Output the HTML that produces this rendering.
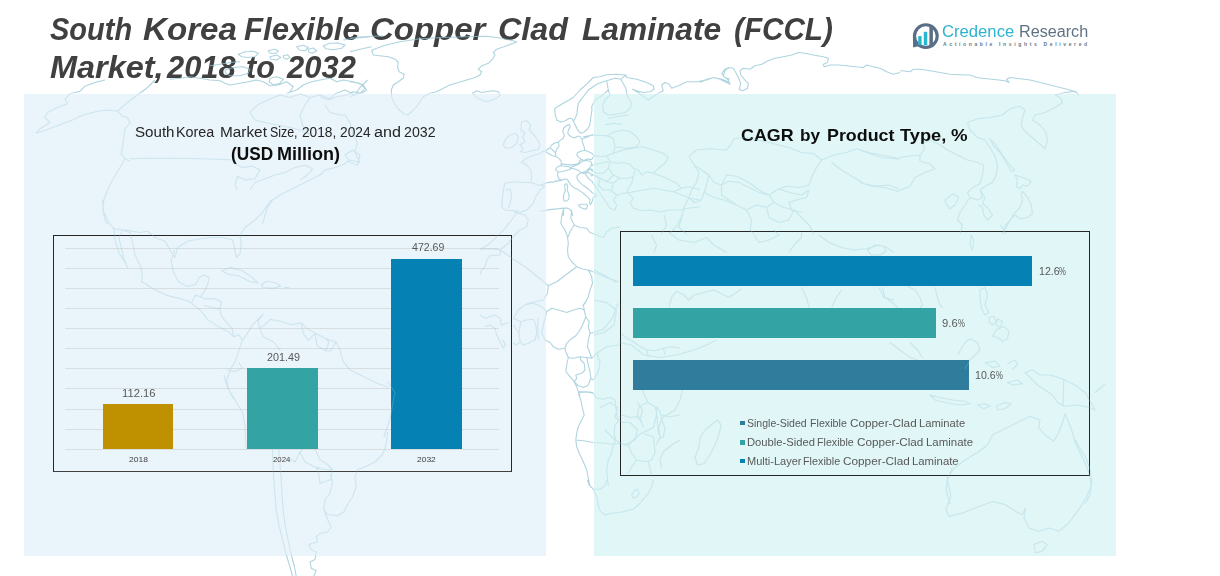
<!DOCTYPE html>
<html>
<head>
<meta charset="utf-8">
<title>South Korea Flexible Copper Clad Laminate (FCCL) Market</title>
<style>
  html, body { margin: 0; padding: 0; }
  body {
    width: 1220px; height: 576px; overflow: hidden; position: relative;
    background: #ffffff;
    font-family: "Liberation Sans", sans-serif;
  }
  .abs { position: absolute; }
  .w { position: absolute; white-space: nowrap; line-height: 1; transform-origin: 0 50%; }
  .panel-l { left: 24px; top: 93.5px; width: 522.2px; height: 462px; background: #eaf4fb; }
  .panel-r { left: 593.5px; top: 93.5px; width: 522.3px; height: 462px; background: #e0f6f7; }
  .ttl { font-weight: bold; font-style: italic; color: #404040; }
  .s1 { color: #262626; }
  .s2 { font-weight: bold; color: #0d0d0d; }
  .lg { color: #595959; }
  .dl { color: #595959; }
  .ax { color: #404040; }
  .pc { transform: scaleX(0.7); transform-origin: 0 50%; }
  .box { border: 1px solid #262626; box-sizing: border-box; }
  .box-l { left: 53.25px; top: 235px; width: 458.5px; height: 236.75px; border-bottom: 1.5px solid #404040; }
  .box-r { left: 619.5px; top: 230.75px; width: 470.5px; height: 244.75px; }
  .grid { left: 65px; width: 434.25px; height: 1px; background: #d8dde0; }
  .mk { width: 4.8px; height: 4.8px; }
</style>
</head>
<body>
  <div class="abs panel-l"></div>
  <div class="abs panel-r"></div>

  <!-- header -->
  <div class="ttl">
    <span class="w" style="left:49.85px;top:13.21px;font-size:32px;transform:scaleX(0.9059);">South</span>
    <span class="w" style="left:143.28px;top:13.21px;font-size:32px;transform:scaleX(1.0353);">Korea</span>
    <span class="w" style="left:244.01px;top:13.21px;font-size:32px;transform:scaleX(0.9715);">Flexible</span>
    <span class="w" style="left:370.45px;top:13.21px;font-size:32px;transform:scaleX(1.0304);">Copper</span>
    <span class="w" style="left:498.29px;top:13.21px;font-size:32px;transform:scaleX(1.0081);">Clad</span>
    <span class="w" style="left:581.91px;top:13.21px;font-size:32px;transform:scaleX(0.9899);">Laminate</span>
    <span class="w" style="left:734.44px;top:13.21px;font-size:32px;transform:scaleX(0.9273);">(FCCL)</span>
    <span class="w" style="left:49.79px;top:51.11px;font-size:32px;transform:scaleX(1.0133);">Market,</span>
    <span class="w" style="left:166.98px;top:51.11px;font-size:32px;transform:scaleX(0.9636);">2018</span>
    <span class="w" style="left:246.20px;top:51.11px;font-size:32px;transform:scaleX(0.9571);">to</span>
    <span class="w" style="left:287.08px;top:51.11px;font-size:32px;transform:scaleX(0.9670);">2032</span>
    </div>
  <div class="logo">
    <span class="w" style="left:942.42px;top:23.76px;font-size:16px;transform:scaleX(1.0412);color:#2cb3cf;">Credence</span>
    <span class="w" style="left:1019.04px;top:23.76px;font-size:16px;transform:scaleX(1.0098);color:#5f7184;">Research</span>
    <span class="w" style="left:942.95px;top:42.47px;font-size:5px;font-weight:bold;letter-spacing:2.650px;color:#66788a;">Actionable Insights Delivered</span>
    </div>
  <svg class="abs" style="left:908px; top:19px" width="36" height="34" viewBox="908 19 36 34">
    <circle cx="925.85" cy="36.1" r="11.35" fill="none" stroke="#5a6f86" stroke-width="3.1"/>
    <path d="M912.9 35 L913.1 47.5 L919.2 46 L915.4 41 Z" fill="#5a6f86"/>
    <rect x="918.2" y="36.1" width="3.4" height="9" fill="#29b6d1"/>
    <rect x="923.8" y="31.8" width="3.45" height="13.5" fill="#29b6d1"/>
    <rect x="929.4" y="26.5" width="3.5" height="19.2" fill="#5a6f86"/>
  </svg>

  <!-- left chart -->
  <div class="s1">
    <span class="w" style="left:134.89px;top:125.20px;font-size:14px;transform:scaleX(1.0800);">South</span>
    <span class="w" style="left:176.17px;top:125.20px;font-size:14px;transform:scaleX(1.0250);">Korea</span>
    <span class="w" style="left:219.53px;top:125.20px;font-size:14px;transform:scaleX(1.0964);">Market</span>
    <span class="w" style="left:269.94px;top:125.20px;font-size:14px;transform:scaleX(0.8855);">Size,</span>
    <span class="w" style="left:301.87px;top:125.20px;font-size:14px;transform:scaleX(0.9788);">2018,</span>
    <span class="w" style="left:339.51px;top:125.20px;font-size:14px;transform:scaleX(0.9800);">2024</span>
    <span class="w" style="left:374.02px;top:125.20px;font-size:14px;transform:scaleX(1.1545);">and</span>
    <span class="w" style="left:404.24px;top:125.20px;font-size:14px;transform:scaleX(1.0118);">2032</span>
    </div><div class="s2">
    <span class="w" style="left:230.54px;top:144.76px;font-size:18px;transform:scaleX(0.9562);">(USD</span>
    <span class="w" style="left:276.85px;top:144.76px;font-size:18px;transform:scaleX(1.0008);">Million)</span>
    </div>
  <div class="abs box box-l"></div>
  <div class="abs grid" style="top:247.75px"></div>
  <div class="abs grid" style="top:267.85px"></div>
  <div class="abs grid" style="top:287.95px"></div>
  <div class="abs grid" style="top:308.05px"></div>
  <div class="abs grid" style="top:328.15px"></div>
  <div class="abs grid" style="top:348.25px"></div>
  <div class="abs grid" style="top:368.35px"></div>
  <div class="abs grid" style="top:388.45px"></div>
  <div class="abs grid" style="top:408.55px"></div>
  <div class="abs grid" style="top:428.65px"></div>
  <div class="abs grid" style="top:448.75px"></div>

  <div class="abs" style="left:102.5px; top:404.25px; width:70.75px; height:45px; background:#bf9000"></div>
  <div class="abs" style="left:247px; top:368.25px; width:70.5px; height:81px; background:#33a3a3"></div>
  <div class="abs" style="left:391.25px; top:259.25px; width:70.5px; height:190px; background:#0582b3"></div>
  <div class="dl">
    <span class="w" style="left:122.48px;top:388.19px;font-size:11px;transform:scaleX(1.0222);">112.16</span>
    <span class="w" style="left:267.01px;top:351.69px;font-size:11px;transform:scaleX(0.9785);">201.49</span>
    <span class="w" style="left:411.51px;top:242.44px;font-size:11px;transform:scaleX(0.9618);">472.69</span>
    </div><div class="ax">
    <span class="w" style="left:128.97px;top:456.15px;font-size:7.5px;transform:scaleX(1.1375);">2018</span>
    <span class="w" style="left:273.49px;top:456.15px;font-size:7.5px;transform:scaleX(1.0462);">2024</span>
    <span class="w" style="left:417.22px;top:456.15px;font-size:7.5px;transform:scaleX(1.1250);">2032</span>
    </div>

  <!-- right chart -->
  <div class="s2">
    <span class="w" style="left:740.51px;top:126.81px;font-size:17px;transform:scaleX(1.0503);">CAGR</span>
    <span class="w" style="left:799.69px;top:126.81px;font-size:17px;transform:scaleX(1.0133);">by</span>
    <span class="w" style="left:826.69px;top:126.81px;font-size:17px;transform:scaleX(1.0502);">Product</span>
    <span class="w" style="left:900.23px;top:126.81px;font-size:17px;transform:scaleX(1.0707);">Type,</span>
    <span class="w" style="left:951.15px;top:126.81px;font-size:17px;transform:scaleX(1.0947);">%</span>
    </div>
  <div class="abs box box-r"></div>
  <div class="abs" style="left:632.5px; top:256px; width:399.8px; height:29.5px; background:#0582b3"></div>
  <div class="abs" style="left:632.5px; top:308px; width:303.5px; height:29.5px; background:#33a3a3"></div>
  <div class="abs" style="left:632.5px; top:360px; width:336.5px; height:29.5px; background:#2f7c9c"></div>
  <div class="dl">
    <span class="w" style="left:1038.78px;top:265.89px;font-size:11px;transform:scaleX(0.9630);">12.6</span>
    <span class="w pc" style="left:1059.00px;top:265.89px;font-size:11px;">%</span>
    <span class="w" style="left:942.39px;top:317.89px;font-size:11px;transform:scaleX(1.0246);">9.6</span>
    <span class="w pc" style="left:957.50px;top:317.89px;font-size:11px;">%</span>
    <span class="w" style="left:975.48px;top:370.09px;font-size:11px;transform:scaleX(0.9630);">10.6</span>
    <span class="w pc" style="left:995.70px;top:370.09px;font-size:11px;">%</span>
    </div>

  <div class="abs mk" style="left:740.1px; top:420.6px; background:#2f7c9c"></div>
  <div class="abs mk" style="left:740.1px; top:439.8px; background:#33a3a3"></div>
  <div class="abs mk" style="left:740.1px; top:458.7px; background:#0582b3"></div>
  <div class="lg">
    <span class="w" style="left:747.22px;top:418.09px;font-size:11px;transform:scaleX(0.9567);">Single-Sided</span>
    <span class="w" style="left:810.23px;top:418.09px;font-size:11px;transform:scaleX(0.9726);">Flexible</span>
    <span class="w" style="left:849.67px;top:418.09px;font-size:11px;transform:scaleX(1.0694);">Copper-Clad</span>
    <span class="w" style="left:919.48px;top:418.09px;font-size:11px;transform:scaleX(1.0194);">Laminate</span>
    <span class="w" style="left:746.68px;top:436.89px;font-size:11px;transform:scaleX(1.0185);">Double-Sided</span>
    <span class="w" style="left:817.03px;top:436.89px;font-size:11px;transform:scaleX(0.9699);">Flexible</span>
    <span class="w" style="left:856.77px;top:436.89px;font-size:11px;transform:scaleX(1.0645);">Copper-Clad</span>
    <span class="w" style="left:926.16px;top:436.89px;font-size:11px;transform:scaleX(1.0400);">Laminate</span>
    <span class="w" style="left:746.70px;top:455.99px;font-size:11px;transform:scaleX(1.0009);">Multi-Layer</span>
    <span class="w" style="left:802.62px;top:455.99px;font-size:11px;transform:scaleX(0.9836);">Flexible</span>
    <span class="w" style="left:842.66px;top:455.99px;font-size:11px;transform:scaleX(1.0710);">Copper-Clad</span>
    <span class="w" style="left:912.27px;top:455.99px;font-size:11px;transform:scaleX(1.0309);">Laminate</span>
    </div>
  <svg class="abs" style="left:0;top:0;pointer-events:none" width="1220" height="576" viewBox="0 0 1220 576"><defs><mask id="wmask" maskUnits="userSpaceOnUse" x="0" y="0" width="1220" height="576"><rect x="0" y="0" width="1220" height="576" fill="#000"/><path fill="#fff" fill-rule="evenodd" d="M0 0H1220V576H0Z M24 93.5H546.2V555.5H24Z M593.5 93.5H1115.8V555.5H593.5Z"/><rect x="24" y="93.5" width="522.2" height="462" fill="#fff" fill-opacity="0.42"/><rect x="593.5" y="93.5" width="522.3" height="462" fill="#fff" fill-opacity="0.42"/></mask></defs><path mask="url(#wmask)" fill="none" stroke="#8fc3d3" stroke-opacity="0.72" stroke-width="1.1" stroke-linejoin="round" d="M371.7 50.3L383.3 45.8L400.0 41.7L420.0 38.7L443.3 37.5L466.7 36.7L486.7 36.3L500.0 38.0L510.0 40.0L516.7 42.0L506.7 45.8L496.7 49.2L493.3 52.5L495.0 55.0L492.5 59.2L488.3 63.3L481.7 65.8L478.3 69.2L481.7 71.7L480.0 75.0L475.0 77.5L466.7 80.0L458.3 82.5L450.0 85.0L443.3 88.3L436.7 91.7L430.0 93.3L423.3 96.7L420.0 101.7L416.7 106.7L411.7 111.7L407.5 115.0L403.3 113.3L398.3 109.2L394.2 103.3L391.7 96.7L391.3 90.0L393.3 85.0L398.3 81.7L403.3 78.3L404.2 74.2L399.2 71.7L397.5 67.5L398.3 62.5L395.0 59.2L388.3 56.7L380.0 55.8L373.3 55.0ZM472.5 93.3L476.7 90.8L481.7 92.5L486.7 91.7L493.3 90.8L498.3 91.7L500.0 95.0L496.7 98.3L491.7 100.0L486.7 101.7L481.7 100.0L477.5 98.3L475.0 95.8ZM350.0 38.3L360.0 37.0L371.7 36.3L383.3 36.0M350.0 51.7L360.0 49.2L371.7 46.7M350.0 81.7L360.0 83.3L365.0 88.3L360.0 93.3L353.3 95.0L350.0 96.7M238.3 54.2L245.0 51.7L253.3 51.3L258.3 53.3L255.0 56.7L248.3 57.5L241.7 56.7ZM268.3 50.8L274.2 49.2L278.3 50.8L275.8 53.3L270.0 53.3ZM270.0 56.7L276.7 55.0L280.8 57.5L276.7 60.0L270.8 59.2ZM283.3 55.8L287.5 54.7L290.0 57.5L286.7 59.2L283.7 58.0ZM296.7 46.7L303.3 45.3L308.3 47.5L305.0 50.8L299.2 50.0ZM308.3 49.2L313.3 48.0L316.7 50.8L312.5 53.3L308.7 52.0ZM323.3 45.8L330.0 43.3L338.3 43.0L345.0 45.0L341.7 48.3L333.3 49.7L325.8 48.7ZM343.3 40.0L353.3 38.3L363.3 37.5L370.0 36.7M225.0 70.0L233.3 67.5L243.3 66.7L250.0 69.2L248.3 73.3L240.0 75.8L230.0 75.8L225.8 73.3ZM270.0 78.3L276.7 76.7L283.3 79.2L280.0 83.3L273.3 85.0L269.2 81.7ZM170.0 79.2L180.0 78.3L190.0 76.7L200.0 78.3L210.0 80.0L220.0 80.8L225.0 83.3L230.0 85.0L240.0 83.3L248.3 81.7L256.7 80.0L263.3 81.7L270.0 85.8L278.3 85.0L286.7 81.7L293.3 86.7L290.0 91.7M210.0 65.8L220.0 64.2L230.0 62.5L240.0 61.7M286.7 93.3L296.7 90.0L303.3 85.0L311.7 81.7L320.0 80.0L330.0 78.3L336.7 81.7L343.3 80.0L353.3 81.7L363.3 85.0L366.7 90.0L361.7 93.3L353.3 91.7L346.7 95.0L336.7 96.7L328.3 100.0L320.0 96.7M554.7 110.8L555.0 108.3L563.3 103.3L573.3 97.5L580.0 90.0L586.7 84.2L593.3 77.5L600.0 76.7L606.7 74.7L616.7 74.2L625.8 75.0L626.7 77.5L636.7 79.2L646.7 82.5L653.3 85.8L654.2 89.2L650.0 91.7L643.3 92.5L636.7 90.8L632.5 89.2L638.3 92.5L645.0 97.5L648.3 100.0L656.7 94.2L663.3 90.8L661.7 85.0L665.0 82.5L669.2 84.2L671.7 88.3L678.3 85.8L686.7 81.7L696.7 81.7L706.7 80.0L713.3 77.5L721.7 79.2L730.0 82.5M730.0 67.5L725.0 69.2L721.7 73.3L725.0 77.5L730.0 79.2M577.0 112.0L578.3 103.3L583.3 96.7L588.3 90.0L596.7 84.2L603.3 81.7L606.7 80.8M606.7 80.8L608.3 90.0L601.7 95.8L595.0 100.0L591.7 106.7L592.0 110.8M606.7 80.8L615.0 78.3L620.8 79.2L625.8 75.0M620.8 79.2L625.8 88.3L627.5 96.7L631.7 103.3L630.0 108.3L625.0 112.5L616.7 114.2L608.3 115.0L603.3 111.7L602.5 105.0L605.0 100.0L610.0 95.0L608.3 90.0M608.3 118.3L616.7 116.7L623.3 115.8L628.3 115.0M605.0 125.0L613.3 123.3L621.7 124.2M700.0 82.5L706.7 79.2L713.3 77.5L720.0 79.2L725.0 81.7L730.0 84.2L728.3 80.0L723.3 75.8L725.0 70.8L728.3 67.5L733.3 68.3L735.8 72.5L738.3 77.5L740.8 83.3L739.2 89.2L742.5 90.8L747.5 88.3L748.3 83.3L744.2 79.2L740.8 75.0L740.0 70.8L743.3 68.3L750.0 69.2L755.0 65.8L761.7 64.2L768.3 60.8L775.0 58.3L783.3 56.7L791.7 55.0L798.3 52.5L805.0 53.3L813.3 55.0L823.3 56.7L828.3 58.3L827.5 62.5L823.3 64.2L824.2 66.7L830.0 65.0L838.3 65.0L846.7 65.8L855.0 66.7L863.3 67.5L866.7 65.0L873.3 66.7L880.0 68.3L886.7 71.7L893.3 74.2L900.0 72.5M900.0 70.8L901.7 70.8L910.0 71.7L913.3 69.2L920.0 69.2L930.0 70.8L940.0 72.5L950.0 74.2L960.0 74.7L970.0 75.0L976.7 77.5L986.7 78.7L996.7 79.7L1005.0 80.8L1009.2 82.5L1006.7 79.2L1010.0 77.5L1020.0 78.7L1030.0 80.0L1040.0 82.5L1050.0 85.0L1060.0 87.5L1070.0 90.0L1076.7 92.5L1078.3 95.0M521.7 121.7L526.7 120.8L530.8 125.0L529.2 130.0L533.3 134.2L536.7 138.3L540.0 145.0L538.3 149.2L531.7 150.8L525.0 152.5L520.8 151.7L523.3 148.3L520.0 145.0L525.0 141.7L522.5 136.7L525.0 133.3L520.8 130.0ZM505.0 140.0L510.0 135.0L515.8 133.3L518.3 136.7L516.7 143.3L511.7 147.5L505.8 148.3L503.3 145.0ZM544.2 150.8L538.3 154.2L531.7 155.8L525.0 159.2L521.7 162.5L526.7 165.0L530.8 170.0L531.7 176.7L530.8 182.5L523.3 182.5L513.3 181.7L505.0 183.3L503.3 190.0L502.5 198.3L501.7 206.7L505.0 210.0L513.3 210.8L520.0 212.5L526.7 210.0L533.3 203.3L535.8 196.7L540.0 190.0L545.0 185.8M596.7 188.3L600.0 193.3L603.3 198.3L606.7 203.3L610.0 208.3L615.0 210.0L616.7 205.0L613.3 200.0L616.7 195.0L623.3 193.3L626.7 193.3M583.3 136.7L593.3 135.0L606.7 135.8L613.3 138.3L615.0 146.7L613.3 153.3L606.7 155.8L600.0 156.7L595.0 155.8M606.7 135.8L615.0 131.7L623.3 130.0L630.0 131.7L636.7 136.7L640.0 141.7L636.7 146.7L626.7 148.3L615.0 146.7M613.3 153.3L623.3 150.0L633.3 148.3L643.3 146.7L653.3 150.0L663.3 153.3L668.3 157.5L665.0 163.3L658.3 168.3L653.3 173.3L646.7 171.7L641.7 175.0L638.3 170.0L633.3 168.3L630.0 164.2L623.3 162.5L616.7 163.3L610.0 161.7L606.7 155.8M635.0 170.0L633.3 176.7L631.7 183.3L628.3 188.3L626.7 193.3L633.3 191.7L643.3 190.0L653.3 188.3L663.3 190.0L673.3 191.7L681.7 188.3L676.7 183.3L666.7 178.3L658.3 175.0L653.3 173.3M610.0 161.7L608.3 168.3L613.3 175.0L620.0 178.3L628.3 178.3L633.3 176.7M591.7 165.8L600.0 163.3L608.3 161.7M590.8 170.0L596.7 173.3L603.3 173.3L608.3 168.3M586.7 171.7L593.3 175.0L600.0 178.3L606.7 181.7L613.3 175.0M600.0 178.3L598.3 185.0L603.3 190.0L610.0 190.0L616.7 195.0M606.7 181.7L613.3 183.3L620.0 178.3M613.3 183.3L611.7 190.0M628.3 193.3L633.3 198.3L630.0 203.3L633.3 208.3L641.7 210.8L650.0 210.0L660.0 211.7L670.0 210.0L680.0 210.0L688.3 208.3L700.0 206.7M673.3 191.7L681.7 195.0L690.0 198.3L700.0 200.0M681.7 188.3L688.3 186.7L695.0 188.3L700.0 190.0M505.0 190.0L510.0 189.2L511.7 195.0L510.0 203.3L508.3 208.3M530.8 182.5L538.3 185.0L545.0 185.8M563.3 210.0L561.7 216.7L560.8 223.3L565.0 230.0L567.5 236.7L568.3 243.3L567.5 250.0L568.3 256.7L571.7 261.7L576.7 266.7M571.7 210.0L570.8 218.3L574.2 225.0L570.0 231.7L568.3 236.7M574.2 225.0L580.0 227.5L586.7 228.3L590.0 232.5L596.7 235.0L603.3 237.5L606.7 231.7L611.7 228.3L620.0 226.7M576.7 266.7L583.3 269.2L588.3 270.0L596.7 273.3L606.7 277.5L618.3 281.7M576.7 266.7L570.0 271.7L563.3 276.7L556.7 281.7L548.3 285.8L541.7 280.0L533.3 273.3L525.0 266.7L513.3 259.2L505.0 253.3L500.0 250.0L508.3 243.3L513.3 236.7L520.0 230.0L526.7 226.7L528.3 220.0L525.0 215.0L516.7 213.3L511.7 210.0M548.3 285.8L547.5 293.3L543.3 300.0L535.0 301.7L528.3 303.3L523.3 306.0M588.3 270.0L591.7 276.7L592.5 283.3L590.0 290.0L588.3 296.7L585.0 303.3L582.5 306.0M480.0 249.2L488.3 248.7L500.0 249.7L500.0 255.0L490.0 255.8L486.7 260.0L485.0 266.7L481.7 270.0L480.0 275.0M518.3 210.0L511.7 220.0L505.0 228.3L496.7 236.7L490.0 243.3L480.0 250.0M546.7 311.7L551.7 308.3L558.3 310.0L566.7 312.5L573.3 310.0L580.0 308.3L584.2 310.0L585.8 316.7L583.3 323.3L580.0 330.0L575.8 335.8L570.8 339.2L566.7 343.3L565.0 348.3L558.3 349.2L553.3 346.7L550.0 342.5L545.0 340.0L541.7 333.3L543.3 325.0L545.0 318.3ZM584.2 310.0L583.3 305.0L586.7 300.0M585.8 316.7L589.2 321.7L588.3 326.7L590.0 333.3L588.3 340.0L587.5 346.7L590.0 353.3L591.7 358.3L586.7 357.5L580.0 356.7L573.3 358.3L568.3 357.5L565.8 351.7L565.0 348.3M590.0 333.3L596.7 331.7L603.3 329.2L608.3 323.3L613.3 316.7L615.8 308.3L618.3 303.3M591.7 358.3L596.7 353.3L601.7 350.0L606.7 346.7L613.3 345.8L620.0 345.0M568.3 357.5L566.7 365.0L565.8 371.7L570.0 376.7L574.2 381.7L576.7 378.3L575.8 375.0L581.7 373.3L585.0 370.0L584.2 363.3L580.8 360.0L580.0 356.7M586.7 357.5L588.3 365.0L590.0 371.7L590.8 378.3L588.3 385.0L583.3 387.5L578.3 385.8L574.2 381.7L576.7 386.7L578.3 391.7L580.0 396.0M578.3 391.7L586.7 391.7L593.3 392.5M596.7 353.3L600.0 361.7L599.2 368.3L596.7 375.0L593.3 380.0L590.8 378.3M538.3 318.3L537.5 326.7L538.3 340.0M520.8 321.7L526.7 320.0L533.3 319.2L535.8 325.0L536.7 333.3L535.0 340.0L528.3 343.3L523.3 345.0L520.0 341.7L519.2 333.3L520.0 326.7ZM520.8 321.7L513.3 318.3L518.3 310.0L525.0 305.0L533.3 303.3L541.7 306.7L546.7 311.7M513.3 325.0L519.2 333.3M520.0 341.7L516.7 345.0L513.3 343.3M480.0 315.0L485.0 318.3L490.0 316.7L495.0 315.0L500.0 318.3L501.7 325.0L508.3 322.5M485.0 326.7L490.0 325.0L495.0 328.3L496.7 335.0L500.0 341.7L503.3 348.3L505.0 345.0L503.3 340.0M621.7 333.3L626.7 338.3L633.3 341.7L640.0 346.7L646.7 350.0L655.0 350.8L663.3 348.3L671.7 346.7L680.0 348.3M646.7 350.0L648.3 356.7M663.3 348.3L665.0 355.0M578.3 393.3L580.8 400.0L582.5 408.3L584.2 415.0L581.7 420.0L578.3 426.7L576.7 433.3L575.8 440.0L576.7 446.7L580.0 455.0L583.3 461.7L586.7 470.0L588.3 478.3L590.0 486.0M578.3 392.5L586.7 392.0L593.3 393.3L596.7 398.3L603.3 399.2L610.0 397.5L615.0 400.0L615.8 406.7L616.7 413.3L618.3 421.7L615.0 425.0L614.2 433.3L615.8 440.0L613.3 444.2M575.8 440.0L583.3 440.8L593.3 442.5L603.3 443.0L613.3 444.2L620.0 443.3L626.7 445.0M613.3 444.2L611.7 453.3L608.3 460.0L606.7 470.0L607.5 478.3L608.3 486.0M621.7 415.0L630.0 417.5L636.7 416.7L641.7 421.7L637.5 415.0L638.3 408.3L643.3 404.2L648.3 402.5L645.0 396.7L642.5 390.0M648.3 402.5L655.0 406.7L656.7 413.3L655.0 421.7L653.3 427.5L646.7 430.8L640.0 434.2L633.3 440.0L628.3 445.0L626.7 445.0M656.7 406.7L660.0 411.7L661.7 420.0L665.0 428.3L663.3 436.7L660.8 438.3L658.3 431.7L657.5 423.3L656.7 413.3ZM661.7 415.0L670.0 416.7L680.0 415.0M628.3 445.0L631.7 453.3L636.7 460.0L645.0 461.7L651.7 460.0L655.0 453.3L654.2 443.3L653.3 436.7L645.0 434.2M636.7 460.0L631.7 466.7L628.3 473.3M648.3 461.7L650.0 468.3L651.7 476.7M680.0 440.0L671.7 445.0L663.3 451.7L660.0 460.0L661.7 468.3M587.5 480.0L589.2 485.0L593.3 489.2L596.7 496.7L598.3 505.0L600.0 510.8L605.0 515.0L611.7 513.3L620.0 512.5L626.7 510.8L633.3 509.2L638.3 505.0L643.3 499.2L648.3 493.3L651.7 486.7L653.3 480.0M593.3 489.2L600.0 489.2L605.0 485.8L606.7 480.0M631.7 495.0L634.2 490.8L637.5 489.2L639.2 493.3L636.7 496.7L633.3 498.0ZM155.0 80.0L147.5 87.5L137.5 95.0L127.5 102.5L117.5 111.2L107.5 110.0L97.5 111.2L87.5 113.8L80.0 116.2L72.5 120.0L62.5 123.8L52.5 127.5L42.5 131.2L36.2 133.0L40.0 128.8L50.0 122.5L45.0 117.5L47.5 112.5L57.5 107.5L67.5 103.8L65.0 98.8L70.0 93.8L80.0 91.2L85.0 86.2L95.0 82.5L105.0 80.0M117.5 111.2L122.5 116.2L127.5 117.5L130.0 122.5L125.0 128.8L123.8 137.5L122.5 147.5L121.2 153.8L125.0 158.8L130.0 161.2M130.0 158.8L150.0 158.2L175.0 158.2L200.0 158.8L225.0 159.5L231.2 160.0M125.0 158.8L120.0 167.5L112.5 180.0L107.5 190.0L103.8 200.0L103.0 210.0L105.0 220.0L107.5 224.0M250.0 112.5L257.5 105.0L267.5 100.0L280.0 95.0L290.0 97.5L300.0 93.8L310.0 97.5L305.0 105.0L300.0 115.0L302.5 125.0L310.0 135.0L300.0 130.0L290.0 127.5L277.5 125.0L265.0 122.5L255.0 120.0ZM310.0 97.5L320.0 95.0L330.0 98.8L335.0 93.8L345.0 90.0L355.0 95.0L360.0 87.5L367.5 80.0M325.0 105.0L330.0 112.5L340.0 115.0L345.0 115.0L350.0 122.5L352.5 132.5L357.5 142.5L355.0 152.5L360.0 162.5L350.0 160.0L342.5 165.0L335.0 167.5L325.0 170.0L320.0 175.0L310.0 180.0L300.0 185.0L290.0 190.0L280.0 195.0L272.5 200.0L267.5 207.5L265.0 215.0L262.5 224.0M232.5 162.5L242.5 167.5L252.5 166.2L260.0 170.0L255.0 178.8L245.0 180.0L237.5 176.2L235.0 185.0L237.5 190.0M250.0 190.0L255.0 182.5L265.0 178.8L275.0 175.0L285.0 172.5L295.0 167.5L305.0 165.0L312.5 168.8L307.5 175.0L300.0 180.0M345.0 155.0L352.5 150.0L360.0 155.0L357.5 165.0L350.0 162.5ZM102.5 200.0L103.8 212.5L108.8 222.5L113.8 228.8L115.0 240.0L118.8 252.5L125.0 262.5L127.5 267.5L123.8 258.8L121.2 247.5L118.8 237.5L122.5 230.0L130.0 232.5L132.5 242.5L135.0 255.0L140.0 265.0L142.5 275.0L141.2 282.5M113.8 228.8L125.0 230.0L140.0 232.5L147.5 231.2L155.0 237.5L165.0 241.2L170.0 250.0L175.0 257.5M175.0 257.5L177.5 247.5L187.5 241.2L200.0 238.8L212.5 237.5L222.5 237.5L232.5 240.0L235.0 250.0L236.2 257.5L240.0 253.8L241.2 245.0L240.0 235.0L245.0 227.5L255.0 220.0L262.5 212.5L267.5 205.0L271.2 200.0M223.8 375.0L227.5 387.5L235.0 400.0L242.5 412.5L245.0 425.0L245.5 440.0L246.2 450.0M387.5 381.2L395.0 392.5L392.5 405.0L390.0 420.0L386.2 430.0L383.8 437.5M272.5 449.5L273.0 464.5L273.8 479.5L275.0 494.5L276.2 509.5L278.8 524.5L282.5 539.5L286.2 554.5L290.0 567.0L292.5 576.0M278.8 449.5L280.0 464.5L281.2 479.5L282.0 494.5L283.0 509.5L285.0 524.5L288.0 539.5L291.2 554.5L294.5 567.0L296.2 576.0M387.5 432.0L386.2 444.5L382.5 454.5L375.0 462.0L365.0 467.0L357.5 469.5L355.0 477.0L356.2 487.0L352.5 497.0L347.5 504.5L343.8 512.0L337.5 515.8L327.5 514.5L323.8 509.5L325.0 499.5L330.0 493.2L332.5 482.0L330.0 474.5M323.8 509.5L327.5 519.5L331.2 527.0L327.5 532.0L320.0 533.2L316.2 537.0L317.5 542.0L312.5 543.2L308.8 544.5L311.2 549.5L316.2 552.0L315.0 559.5L310.0 562.0L311.2 568.2L316.2 570.8L313.8 576.0M300.0 452.0L305.0 462.0L315.0 467.0L325.0 469.5L332.5 469.5L331.2 479.5L320.0 483.2L318.8 474.5L316.2 467.0M315.0 449.5L320.0 459.5L327.5 464.5L332.5 469.5M287.5 457.0L295.0 462.0L300.0 452.0L302.5 449.5M689.0 156.2L696.5 150.0L711.5 148.8L726.5 150.0L731.5 143.8L734.0 138.8L744.0 137.5L759.0 140.0L774.0 143.8L789.0 147.5L801.5 152.5L814.0 153.8L821.5 160.0L816.5 167.5L811.5 177.5L809.0 185.0L799.0 187.5L786.5 186.2L779.0 188.8L769.0 195.0L759.0 192.5L749.0 187.5L739.0 182.5L729.0 181.2L721.5 185.0L714.0 182.5L709.0 175.0L701.5 170.0L694.0 165.0L689.0 156.2M694.0 165.0L699.0 172.5L696.5 182.5L691.5 190.0L689.0 197.5L694.0 202.5L701.5 200.0L704.0 192.5L706.5 185.0L709.0 175.0M821.5 160.0L834.0 155.0L846.5 152.5L856.5 148.8L869.0 152.5L881.5 155.0L894.0 157.5L899.0 160.0M831.5 162.5L841.5 170.0L854.0 177.5L864.0 183.8L876.5 186.2L889.0 185.0L899.0 188.8M721.5 185.0L726.5 175.0L736.5 176.2L749.0 182.5L759.0 190.0L769.0 195.0L774.0 202.5L766.5 207.5L756.5 205.0L746.5 210.0L736.5 205.0L729.0 200.0L721.5 195.0L721.5 185.0M779.0 188.8L789.0 192.5L801.5 195.0L809.0 190.0L806.5 197.5L796.5 200.0L789.0 202.5L791.5 210.0L801.5 212.5M746.5 210.0L751.5 220.0L750.2 230.0L754.0 234.0M774.0 202.5L784.0 207.5L794.0 210.0L801.5 217.5L809.0 225.0L814.0 234.0M766.5 207.5L769.0 217.5L779.0 222.5L789.0 220.0L794.0 210.0M704.0 192.5L714.0 197.5L724.0 200.0L736.5 205.0M689.0 197.5L684.0 207.5L681.5 217.5L676.5 226.2L669.0 234.0M664.0 215.0L666.5 225.0L661.5 234.0M681.5 217.5L679.0 227.5L686.5 234.0M940.0 145.0L947.5 150.0L957.5 155.0L967.5 160.0L977.5 162.5L983.8 165.0L982.5 175.0L980.0 183.8L972.5 187.5L967.5 192.5L970.0 197.5L977.5 200.0L982.5 197.5L980.0 190.0L985.0 186.2L992.5 182.5L996.2 175.0L997.5 165.0L995.0 156.2L990.0 147.5L985.0 140.0L977.5 137.5L970.0 130.0L967.5 122.5L977.5 118.8L990.0 117.5L1002.5 115.0L1010.0 108.8L1020.0 106.2L1025.0 110.0L1022.5 117.5L1021.2 126.2L1026.2 132.5L1035.0 140.0L1045.0 148.8L1047.5 140.0L1046.2 132.5L1040.0 125.0L1032.5 120.0L1035.0 115.0L1045.0 112.5L1055.0 107.5L1062.5 102.5L1060.0 97.5L1055.0 95.0L1065.0 92.5L1075.0 91.2L1078.8 95.0M990.0 138.8L995.0 143.8L1002.5 155.0L1010.0 165.0L1015.0 170.0L1011.2 171.2L1006.2 162.5L1000.0 152.5L993.8 146.2ZM1015.0 175.0L1022.5 177.5L1031.2 181.2L1027.5 186.2L1022.5 185.0L1020.0 188.8L1016.2 186.2L1017.5 180.0ZM1022.5 191.2L1027.5 197.5L1031.2 205.0L1032.5 213.8L1027.5 217.5L1020.0 218.8L1015.0 215.0L1010.0 220.0L1005.0 226.2L1002.5 234.0L1007.5 225.0L1013.8 213.8L1020.0 207.5L1022.5 200.0L1021.2 193.8L1022.5 191.2M980.0 190.0L985.0 197.5L982.5 203.8L987.5 207.5L992.5 215.0L987.5 220.0L983.8 215.0L982.5 207.5L978.8 205.0M860.0 150.0L870.0 153.8L882.5 157.5L895.0 158.8L907.5 156.2L920.0 155.0L925.0 148.8L922.5 143.8L930.0 140.0L940.0 145.0M860.0 182.5L872.5 186.2L885.0 187.5L897.5 191.2L910.0 186.2L915.0 177.5L925.0 172.5L935.0 168.8L930.0 163.8L920.0 161.2L920.0 155.0M945.0 200.0L952.5 193.8L958.8 197.5L955.0 205.0L950.0 208.8L946.2 203.8ZM970.0 197.5L965.0 205.0L960.0 212.5L957.5 220.0L962.5 225.0L960.0 234.0M651.5 235.0L656.5 245.0L654.0 252.5M669.0 232.5L679.0 240.0L694.0 242.5L706.5 237.5L714.0 245.0L726.5 252.5M754.0 235.0L759.0 242.5L769.0 240.0L779.0 235.0L774.0 230.0M789.0 252.5L794.0 245.0L801.5 237.5L801.5 232.5M819.0 235.0L829.0 242.5L841.5 247.5L854.0 250.0L866.5 248.8L879.0 245.0L886.5 247.5L894.0 252.5M669.0 307.5L671.5 297.5L676.5 291.2L684.0 295.0L689.0 300.0L694.0 295.0L704.0 292.5L714.0 290.0L724.0 295.0L729.0 297.5L736.5 292.5L741.5 288.8M801.5 287.5L806.5 297.5L809.0 307.5M831.5 307.5L836.5 297.5L841.5 290.0M879.0 287.5L884.0 297.5L894.0 300.0M594.0 270.0L604.0 275.0L616.5 282.5M594.0 300.0L606.5 302.5L616.5 310.0L614.0 325.0L604.0 332.5L594.0 335.0M619.0 342.5L631.5 345.0L644.0 355.0L659.0 357.5L676.5 355.0L694.0 350.0L706.5 345.0L716.5 340.0M980.0 290.0L985.0 287.5L987.5 295.0L985.0 305.0L988.8 312.5L985.0 315.0L981.2 307.5L980.0 297.5ZM988.8 317.5L993.8 316.2L996.2 321.2L992.5 325.0L989.5 322.5ZM997.5 318.8L1002.5 321.2L1000.0 327.5L996.2 325.0ZM996.2 330.0L1003.8 326.2L1008.8 331.2L1007.5 338.8L1002.5 341.2L997.5 337.5L992.5 336.2ZM971.2 235.0L973.8 240.0L972.5 250.0L970.0 245.0ZM867.5 250.0L875.0 245.0L883.8 246.2L886.2 251.2L880.0 255.0L871.2 255.0ZM907.5 286.2L915.0 290.0L920.0 297.5L922.5 305.0L920.0 307.5M935.0 287.5L937.5 297.5L940.0 305.0L942.5 307.5M882.5 287.5L885.0 297.5L892.5 302.5L897.5 307.5M965.0 369.0L970.0 360.0L975.0 355.0L980.0 350.0L977.5 342.5L970.0 338.8L965.0 342.5L957.5 355.0M890.0 342.5L900.0 350.0L910.0 357.5L917.5 360.0M910.0 342.5L917.5 350.0L922.5 357.5M1007.5 363.8L1015.0 360.0L1017.5 365.0L1012.5 369.0M1000.0 225.0L1003.8 230.0L1006.2 233.8M1025.0 372.5L1032.5 370.0L1040.0 375.0L1050.0 375.0L1062.5 378.8L1075.0 385.0L1085.0 392.5L1090.0 401.2L1095.0 410.0L1085.0 406.2L1075.0 405.0L1065.0 406.2L1057.5 402.5L1052.5 395.0L1045.0 390.0L1037.5 385.0L1032.5 380.0ZM1063.8 378.8L1063.0 406.2M930.0 395.0L940.0 397.5L952.5 400.0L965.0 401.2L970.0 403.8L960.0 405.0L947.5 403.0L935.0 400.0ZM977.5 405.0L985.0 403.8L990.0 406.2L983.8 408.8ZM996.2 406.2L1005.0 402.5L1011.2 403.8L1005.0 408.8L997.5 410.0ZM985.0 362.5L995.0 361.2L1000.0 366.2L992.5 367.5ZM1007.5 382.5L1017.5 380.0L1022.5 383.8L1012.5 385.0ZM950.0 504.0L946.2 490.0L947.5 477.5L955.0 467.5L965.0 460.0L977.5 452.5L987.5 445.0L992.5 435.0L1002.5 430.0L1012.5 425.0L1022.5 420.0L1030.0 416.2L1040.0 420.0L1038.8 427.5L1045.0 435.0L1053.8 441.2L1058.8 432.5L1062.5 422.5L1065.0 413.8L1068.8 422.5L1072.5 432.5L1075.0 442.5L1080.0 452.5L1085.0 462.5L1088.8 472.5L1091.2 485.0L1090.0 495.0L1085.0 504.0M1095.0 392.5L1101.2 387.5L1105.0 383.8M952.6 466.6L947.6 479.8L950.9 496.4L945.9 509.7L949.2 516.4L962.5 513.0L979.1 506.4L992.4 501.4L1005.7 504.7L1015.6 511.4L1022.3 514.7L1025.6 508.1L1023.9 518.0L1028.9 528.0L1038.9 531.3L1048.8 528.0L1058.8 531.3L1068.8 523.0L1078.7 509.7L1087.0 496.4L1092.0 483.2L1090.3 469.9L1085.4 456.6L1078.7 446.6L1075.4 440.0M1033.9 544.6L1042.2 541.3L1047.2 544.6L1042.2 551.2L1035.6 552.9ZM717.5 420.0L721.2 425.0L718.8 435.0L715.0 445.0L710.0 455.0L703.8 463.8L697.5 465.0L695.0 457.5L698.8 447.5L700.0 437.5L705.0 430.0L712.5 423.8ZM682.5 390.0L680.0 400.0L675.0 410.0L662.5 417.5L658.8 427.5L660.0 437.5L656.2 445.0M637.5 402.5L642.5 410.0L640.0 420.0L643.8 427.5M600.0 407.5L610.0 402.5L617.5 407.5L615.0 417.5L622.5 422.5L630.0 422.5L637.5 430.0L635.0 440.0L625.0 445.0L615.0 440.0L605.0 430.0M554.6 110.0L555.5 115.8L557.0 120.2L560.9 122.1L565.3 120.7L569.2 118.3L572.1 118.7L573.5 121.2L575.5 117.8L576.9 113.9L577.4 110.0M573.5 121.2L575.5 125.5L577.9 130.4L580.8 133.3L584.2 131.9L587.6 129.0L589.6 125.5L590.5 120.7L591.0 115.8L592.0 110.0M543.9 151.8L545.8 150.8L549.7 147.9L551.7 145.0L554.6 143.0L558.5 142.1L560.4 140.1L563.3 138.2L564.3 135.3L562.8 131.9L563.8 128.0L566.7 125.5L569.6 124.6L570.1 126.5L568.7 129.4L567.7 132.8L569.2 135.3L572.1 137.2L575.0 137.7L577.4 136.2L579.8 136.2L581.8 139.2L587.6 136.7L593.4 134.3M558.5 142.1L559.0 146.0L557.0 148.9L555.5 152.8L556.0 156.6L559.4 158.6L561.4 161.5L560.9 166.0M545.8 151.8L548.7 153.7L552.6 155.7L555.5 156.6M549.7 147.9L552.6 149.8L555.5 152.8M581.8 139.2L582.8 143.0L584.2 146.9L584.7 150.3M584.7 150.3L580.8 151.3L577.4 152.8L576.9 155.2L578.9 157.6L581.8 159.6L583.7 160.5L587.6 159.1L591.5 159.6L593.0 157.6L594.4 155.7L591.5 153.2L587.6 151.3ZM560.9 163.9L565.3 164.4L571.1 164.9L576.0 164.4L578.9 163.0L579.8 160.5L581.8 159.6M555.5 169.7L557.0 167.3L560.4 165.8L565.3 166.3L569.2 166.8L571.1 168.3L569.2 169.7L565.3 170.7L561.4 171.7L558.0 172.1ZM571.1 167.3L576.0 165.3L579.8 163.4L582.8 161.0L586.6 160.5L590.5 161.5L592.0 163.9L590.0 167.3L587.6 169.7L584.7 172.1L580.8 172.6L577.9 170.2L574.0 168.7L571.1 168.3ZM580.8 172.6L583.7 173.6L586.6 172.6L588.6 170.2L590.5 168.7L593.0 169.7M558.0 172.1L557.5 175.5L559.0 179.0L561.4 180.4M540.0 185.3L543.9 183.8L548.7 182.4L553.6 181.9L557.5 180.9L561.4 180.4L564.3 179.0L567.2 179.4L569.2 182.4L571.1 185.3L574.0 187.7L577.9 189.6L581.8 192.1L585.2 195.0L588.1 197.4L590.0 199.8L589.6 202.8L590.5 204.7L592.0 201.8L593.0 198.4L594.4 196.4L596.9 196.0L595.4 194.0L592.5 193.0L589.6 190.1L586.6 187.7L583.7 185.8L580.8 183.3L578.4 180.9L576.9 178.0L577.4 175.5L579.8 173.6L580.8 172.6M586.6 172.6L585.7 174.6L587.6 177.5L590.0 179.9L592.5 181.9L593.0 183.3L596.9 188.2M590.5 176.0L593.0 175.1L596.4 176.0L598.3 178.0M564.8 184.3L566.7 183.8L567.7 186.2L567.2 189.6L568.2 192.6L569.2 196.0L568.7 199.4L566.2 201.3L563.8 200.8L563.3 197.4L563.8 194.0L565.3 191.1L564.8 188.2ZM578.4 205.2L581.8 204.2L585.7 204.2L587.6 205.2L586.6 208.6L584.2 209.1L580.8 207.6ZM540.0 211.5L544.9 210.5L549.7 209.6L554.6 209.1L559.4 208.6L563.3 208.1L567.2 208.1L570.1 209.6L572.1 212.5L572.6 216.0M563.8 208.6L563.3 216.0M141.7 281.2L152.1 288.2L165.9 295.1L179.8 298.6L190.2 302.1L200.7 310.7L207.6 319.4L218.0 326.4L228.4 331.6L233.6 336.8L238.8 335.0L242.3 340.2L247.5 333.3L252.7 324.6L257.9 319.4L263.1 314.2L257.9 321.2L259.7 328.1L264.9 324.6L270.1 319.4L280.5 321.2L290.9 324.6L301.3 322.9L306.5 328.1L315.2 333.3L325.6 338.5L336.0 342.0L339.5 348.9L343.0 361.1L349.9 369.8L363.8 376.7L377.7 383.6L388.1 387.1M174.6 250.0L171.2 260.4L172.9 270.8L178.1 281.2L186.8 286.4L195.5 284.7L198.9 277.8L204.1 275.0L209.3 277.8L207.6 284.7L204.1 291.7L200.7 296.9L204.1 298.6L214.5 298.6L221.5 302.1L219.8 309.0L221.5 315.9L226.7 322.9L231.9 328.1L233.6 336.8M192.0 302.1L195.5 295.1L200.7 296.9M204.1 305.5L211.1 307.3L219.8 309.0M242.3 340.2L238.8 350.7L235.4 361.1L230.2 369.8L226.7 380.2L228.4 388.8L233.6 399.3M259.7 328.1L263.1 336.8L273.6 342.0L280.5 350.7M301.3 322.9L303.1 333.3L308.3 340.2L315.2 333.3L316.9 345.5L325.6 350.7L329.1 342.0L325.6 338.5M336.0 342.0L330.8 350.7L325.6 350.7M226.7 369.8L235.4 371.5L242.3 368.0L238.8 362.8M221.5 270.8L230.2 267.4L242.3 270.8L252.7 277.8L257.9 283.0L249.3 281.2L238.8 276.0L228.4 274.3ZM261.4 284.7L266.6 281.2L277.0 283.0L280.5 286.4L271.8 288.2L263.1 287.5ZM284.0 287.5L289.2 287.5"/></svg>
</body>
</html>
